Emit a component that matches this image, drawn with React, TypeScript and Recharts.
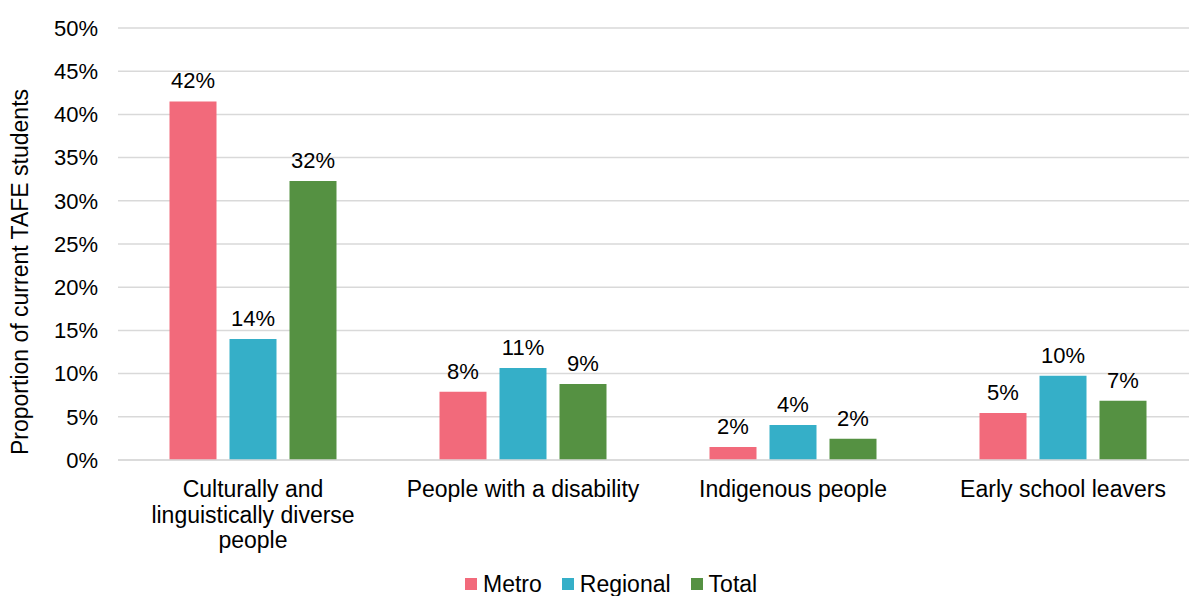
import { BarChart, Bar, XAxis, YAxis, CartesianGrid, Legend, LabelList } from "recharts"

const categories = [
  "Culturally and|linguistically diverse|people",
  "People with a disability",
  "Indigenous people",
  "Early school leavers",
]
const metro = [41.5, 7.9, 1.5, 5.45]
const regional = [14.0, 10.65, 4.05, 9.75]
const total = [32.3, 8.8, 2.45, 6.85]
const yTicks = [0, 5, 10, 15, 20, 25, 30, 35, 40, 45, 50]

const series = [
  { key: "metro", name: "Metro", color: "#F26A7B" },
  { key: "regional", name: "Regional", color: "#35AFC8" },
  { key: "total", name: "Total", color: "#559142" },
]

const data = categories.map((c, i) => ({
  name: c,
  metro: metro[i],
  regional: regional[i],
  total: total[i],
}))

const font = "'Liberation Sans', Arial, sans-serif"

function CategoryTick({ x, y, payload }: any) {
  const lines = String(payload.value).split("|")
  return (
    <text x={x} y={y + 37} textAnchor="middle" fontSize={23} fill="#000" fontFamily={font}>
      {lines.map((l, i) => (
        <tspan key={i} x={x} dy={i === 0 ? 0 : 25.5}>
          {l}
        </tspan>
      ))}
    </text>
  )
}

function LegendContent() {
  return (
    <div style={{ display: "flex", alignItems: "center", paddingLeft: 465, fontFamily: font, fontSize: 23, color: "#000", height: 24 }}>
      {series.map((s) => (
        <div key={s.key} style={{ display: "flex", alignItems: "center", marginRight: 20 }}>
          <span style={{ width: 12, height: 12, background: s.color, display: "inline-block", marginRight: 6 }} />
          <span>{s.name}</span>
        </div>
      ))}
    </div>
  )
}

export default function App() {
  return (
    <div style={{ position: "absolute", left: 0, top: 0, width: 1189, height: 596, overflow: "hidden", background: "#fff" }}>
      <BarChart
        width={1200}
        height={596}
        data={data}
        margin={{ top: 28, right: 2, bottom: 0, left: 0 }}
        barCategoryGap={51.5}
        barGap={13}
      >
        <CartesianGrid vertical={false} stroke="#D9D9D9" strokeWidth={1.5} />
        <XAxis
          dataKey="name"
          height={112}
          tickLine={false}
          tickSize={0}
          tickMargin={0}
          axisLine={{ stroke: "#D9D9D9", strokeWidth: 1.5 }}
          tick={<CategoryTick />}
          interval={0}
        />
        <YAxis
          width={118}
          domain={[0, 50]}
          ticks={yTicks}
          tickFormatter={(v) => `${v}%`}
          axisLine={false}
          tickLine={false}
          tickSize={0}
          tickMargin={20}
          tick={{ fontSize: 22, fill: "#000", fontFamily: font }}
          label={{
            content: () => (
              <text
                x={28}
                y={272}
                transform="rotate(-90, 28, 272)"
                textAnchor="middle"
                fontSize={23}
                fill="#000"
                fontFamily={font}
              >
                Proportion of current TAFE students
              </text>
            ),
          }}
        />
        <Legend verticalAlign="bottom" height={24} content={<LegendContent />} wrapperStyle={{ left: 0, width: 1200 }} />
        {series.map((s) => (
          <Bar key={s.key} dataKey={s.key} name={s.name} fill={s.color} isAnimationActive={false}>
            <LabelList
              dataKey={s.key}
              position="top"
              offset={13}
              formatter={(v: any) => `${Math.round(Number(v))}%`}
              style={{ fontSize: 22, fill: "#000", fontFamily: font }}
            />
          </Bar>
        ))}
      </BarChart>
    </div>
  )
}
